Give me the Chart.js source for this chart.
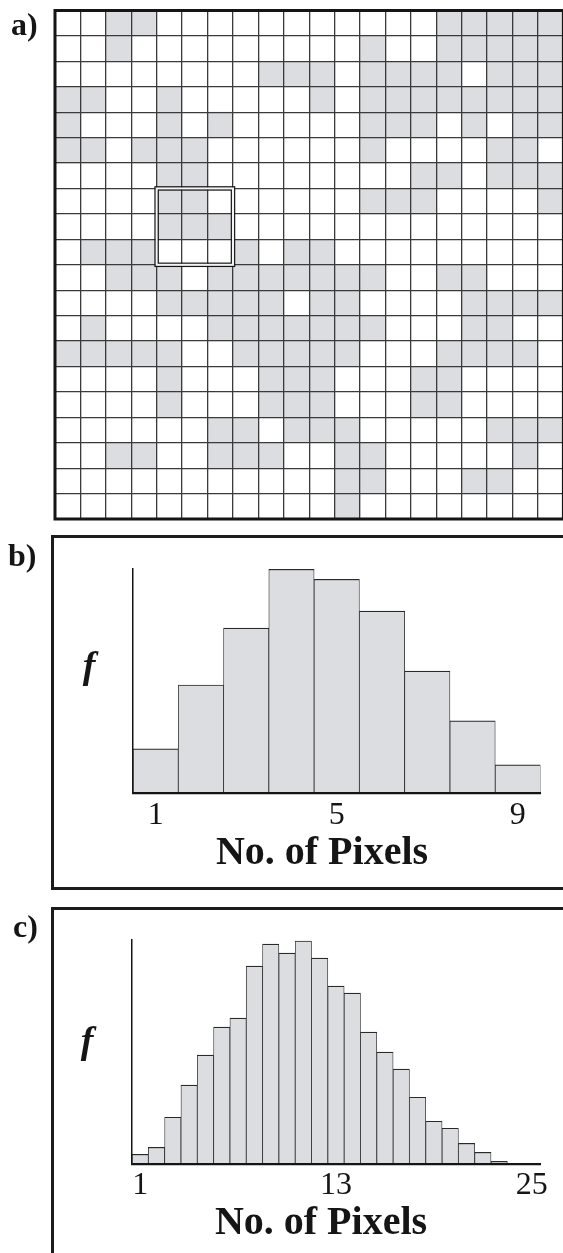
<!DOCTYPE html>
<html>
<head>
<meta charset="utf-8">
<title>Pixel counts in a sliding window</title>
<script src="https://cdn.jsdelivr.net/npm/chart.js@4.4.1/dist/chart.umd.min.js"></script>
<style>
  html, body { margin: 0; padding: 0; background: #fff; overflow: hidden; }
  #page { position: relative; width: 563px; height: 1253px; overflow: hidden; }
  #page canvas, .lbl, .frame { position: absolute; }
  .lbl {
    font-family: 'Liberation Serif', 'Times New Roman', serif;
    font-weight: bold; color: #151515; line-height: 1; white-space: nowrap;
  }
  .frame { border: 3px solid #1c1c1c; border-right: none; box-sizing: border-box; }
</style>
</head>
<body>
<div id="page">
  <div class="frame" style="left:51px; top:535px; width:620px; height:355px;"></div>
  <div class="frame" style="left:51px; top:907px; width:620px; height:400px; border-bottom:none;"></div>

  <canvas id="gridChart" width="600" height="530" style="left:0; top:0;"></canvas>
  <canvas id="histB" width="563" height="360" style="left:0; top:530px;"></canvas>
  <canvas id="histC" width="563" height="353" style="left:0; top:900px;"></canvas>

  <div class="lbl" style="left:11px; top:8px; font-size:32px;">a)</div>
  <div class="lbl" style="left:8px; top:539px; font-size:32px;">b)</div>
  <div class="lbl" style="left:13px; top:910px; font-size:32px;">c)</div>

  <div class="lbl" style="left:89px; top:646px; font-size:38px; font-style:italic; transform:translateX(-50%);">f</div>
  <div class="lbl" style="left:322px; top:831px; font-size:40px; transform:translateX(-50%);">No. of Pixels</div>

  <div class="lbl" style="left:87px; top:1021px; font-size:38px; font-style:italic; transform:translateX(-50%);">f</div>
  <div class="lbl" style="left:321px; top:1201px; font-size:40px; transform:translateX(-50%);">No. of Pixels</div>
</div>

<script>
// ---- a) binary image: 20 x 20 pixels, '1' = shaded pixel ----
const gridRows = [
  '00110000000000011111',
  '00100000000010011111',
  '00000000111011110111',
  '11001000001011111111',
  '10001010000011101011',
  '11011100000010000110',
  '00001100000000110111',
  '00001100000011100001',
  '00001110000000000000',
  '01110001011000000000',
  '00111011111110011000',
  '00001111101100001111',
  '01000011111110001100',
  '11111001111100011110',
  '00001000111000110000',
  '00001000111000110000',
  '00000011011100000111',
  '00110011100110000010',
  '00000000000110001100',
  '00000000000100000000'
];
const gridCols = Array.from({ length: 20 }, (_, i) => i);
// 3 x 3 counting window (first/last column, first/last row)
const windowCols = [4, 6];
const windowRows = [7, 9];

// ---- b) counts per 3 x 3 window ----
const binsB = [1, 2, 3, 4, 5, 6, 7, 8, 9];
const freqB = [44, 108, 165, 224, 214, 182, 122, 72, 28];
const ticksB = [1, 5, 9];

// ---- c) counts per 5 x 5 window ----
const binsC = [1, 2, 3, 4, 5, 6, 7, 8, 9, 10, 11, 12, 13, 14, 15, 16, 17, 18, 19, 20, 21, 22, 23, 24, 25];
const freqC = [10, 17, 47, 79, 109, 137, 146, 198, 220, 211, 223, 206, 178, 171, 132, 112, 95, 67, 43, 36, 21, 12, 3, 0, 1];
const ticksC = [1, 13, 25];

const SHADE = '#dcdde0';
const EDGE = '#2a2a2a';
const INK = '#151515';
const SERIF = "'Liberation Serif', 'Times New Roman', serif";

// Heavy frame around the pixel grid plus the double-lined counting window
const gridDecor = {
  id: 'gridDecor',
  afterDraw(chart) {
    const { ctx, chartArea: a, scales: { x, y } } = chart;
    ctx.save();
    ctx.strokeStyle = INK;
    ctx.lineWidth = 3;
    ctx.strokeRect(a.left, a.top, a.right - a.left, a.bottom - a.top);

    const cw = x.getPixelForValue(1) - x.getPixelForValue(0);
    const x0 = x.getPixelForValue(windowCols[0]) - cw / 2;
    const x1 = x.getPixelForValue(windowCols[1]) + cw / 2;
    const y0 = y.getPixelForValue(windowRows[0]);
    const y1 = y.getPixelForValue(windowRows[1] + 1);
    ctx.strokeStyle = '#f4f4f4';
    ctx.lineWidth = 2.4;
    ctx.strokeRect(x0, y0, x1 - x0, y1 - y0);
    ctx.strokeStyle = INK;
    ctx.lineWidth = 1.2;
    ctx.strokeRect(x0 - 1.7, y0 - 1.7, x1 - x0 + 3.4, y1 - y0 + 3.4);
    ctx.strokeRect(x0 + 1.6, y0 + 1.6, x1 - x0 - 3.2, y1 - y0 - 3.2);
    ctx.restore();
  }
};

const gridLine = { color: '#3a3a3a', lineWidth: 1.3, drawTicks: false, z: 1 };

new Chart(document.getElementById('gridChart'), {
  type: 'bar',
  data: {
    labels: gridCols,
    datasets: gridRows.map((row, r) => ({
      label: 'row ' + r,
      data: [...row].map(c => (c === '1' ? [r, r + 1] : null)),
      backgroundColor: SHADE,
      borderWidth: 0,
      grouped: false,
      barPercentage: 1,
      categoryPercentage: 1
    }))
  },
  options: {
    responsive: false,
    animation: false,
    events: [],
    layout: { padding: { left: 55, top: 10.5, right: 36.6, bottom: 11 } },
    plugins: { legend: { display: false }, tooltip: { enabled: false } },
    scales: {
      x: {
        type: 'category', offset: true,
        grid: Object.assign({ offset: true }, gridLine),
        ticks: { display: false },
        border: { display: false }
      },
      y: {
        type: 'linear', min: 0, max: 20, reverse: true,
        grid: gridLine,
        ticks: { display: false, stepSize: 1 },
        border: { display: false }
      }
    }
  },
  plugins: [gridDecor]
});

function histogram(id, bins, freq, shown, yMax, pad, axisHeight, tickPad) {
  return new Chart(document.getElementById(id), {
    type: 'bar',
    data: {
      labels: bins,
      datasets: [{
        label: 'f',
        data: freq,
        backgroundColor: SHADE,
        borderColor: EDGE,
        borderWidth: { top: 1.2, left: 0.8, right: 0.8, bottom: 0 },
        barPercentage: 1,
        categoryPercentage: 1
      }]
    },
    options: {
      responsive: false,
      animation: false,
      events: [],
      layout: { padding: pad },
      plugins: { legend: { display: false }, tooltip: { enabled: false } },
      scales: {
        x: {
          type: 'category', offset: true,
          grid: { display: false, drawTicks: false },
          border: { display: true, color: INK, width: 2.2, z: 1 },
          ticks: {
            autoSkip: false, maxRotation: 0, padding: tickPad, color: INK,
            font: { family: SERIF, size: 32 },
            callback: (v, i) => (shown.includes(bins[i]) ? String(bins[i]) : '')
          },
          afterFit: s => { s.height = axisHeight; }
        },
        y: {
          min: 0, max: yMax,
          grid: { display: false, drawTicks: false },
          ticks: { display: false },
          border: { display: true, color: INK, width: 1.5, z: 1 },
          afterFit: s => { s.width = 0; }
        }
      }
    }
  });
}

histogram('histB', binsB, freqB, ticksB, 225,
  { left: 133, top: 38.3, right: 22.5, bottom: 37.3 }, 60, 4);
histogram('histC', binsC, freqC, ticksC, 224,
  { left: 132, top: 40, right: 23, bottom: 33.7 }, 55, 2.5);
</script>
</body>
</html>
